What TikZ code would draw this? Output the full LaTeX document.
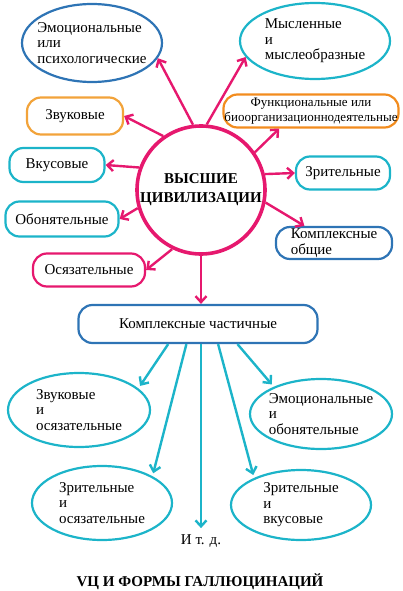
\documentclass[tikz,border=0pt]{standalone}
\usepackage{fontspec}
\setmainfont{Liberation Serif}
\usetikzlibrary{arrows.meta,shapes.geometric}
\definecolor{civpink}{HTML}{E6186E}
\definecolor{civblue}{HTML}{2E74B5}
\definecolor{civteal}{HTML}{1CB4C9}
\definecolor{civorange}{HTML}{F2A33A}
\definecolor{civdeeporange}{HTML}{F28C1E}

\begin{document}
\begin{tikzpicture}[x=1pt, y=-1pt, >={Straight Barb[length=6pt,width=11pt]},
    every node/.style={font=\fontsize{15}{15.5}\selectfont},
    pill/.style={draw, line width=2.2pt, rounded corners=14pt, inner xsep=2pt, minimum height=34pt},
    oval/.style={draw, ellipse, line width=2.2pt, align=left, inner xsep=-20pt, inner ysep=0pt},
    pinkarr/.style={->, line width=2.4pt, civpink},
    tealarr/.style={->, line width=2.4pt, civteal, shorten >=3pt}]
    \useasboundingbox (0,0) rectangle (402,591);

    % 1. центральный круг
    \node[circle, draw=civpink, line width=3.6pt, minimum size=128pt, inner sep=-4pt, align=center,
          font=\bfseries\fontsize{15}{19}\selectfont] (civ) at (201,190) {ВЫСШИЕ\\ЦИВИЛИЗАЦИИ};

    % 2. верхние овалы
    \node[oval, civblue, minimum width=140pt, minimum height=78pt, text=black] (emo) at (92,43)
        {Эмоциональные\\или\\психологические};
    \node[oval, civteal, minimum width=150pt, minimum height=76pt, text=black] (mysl) at (315,41)
        {Мысленные\\и\\мыслеобразные};

    % 3. формы вокруг круга
    \node[pill, civorange, minimum width=96pt, minimum height=37pt, text=black] (zvuk) at (75,116) {Звуковые};
    \node[pill, civdeeporange, minimum width=175pt, minimum height=33pt, align=center, inner xsep=0pt, inner ysep=1pt,
          font=\fontsize{13}{14.5}\selectfont, text=black] (func) at (311,111)
        {Функциональные или\\биоорганизационнодеятельные};
    \node[pill, civteal, minimum width=95pt, text=black] (vkus) at (57,165) {Вкусовые};
    \node[pill, civteal, minimum width=94pt, minimum height=33pt, text=black] (zrit) at (343,173) {Зрительные};
    \node[pill, civteal, minimum width=113pt, minimum height=35pt, text=black] (obon) at (62,219) {Обонятельные};
    \node[pill, civblue, minimum width=116pt, minimum height=32pt, align=left, inner ysep=0pt, text=black] (kobsh) at (334,243)
        {Комплексные\\общие};
    \node[pill, civpink, minimum width=112pt, minimum height=33pt, text=black] (osyaz) at (89,270) {Осязательные};

    % 4. стрелки от круга
    \draw[pinkarr] (civ.97) -- (emo.-13);
    \draw[pinkarr] (civ.85) -- (mysl.-167);
    \draw[pinkarr] (civ.125) -- (zvuk.east);
    \draw[pinkarr] (civ.35) -- (func.209);
    \draw[pinkarr] (civ.160) -- (vkus.east);
    \draw[pinkarr] (civ.14) -- (zrit.west);
    \draw[pinkarr] (civ.196) -- (obon.east);
    \draw[pinkarr] (civ.-11) -- (kobsh.150);
    \draw[pinkarr] (civ.244) -- (osyaz.east);

    % 5. комплексные частичные
    \node[pill, civblue, minimum width=239pt, minimum height=38pt, text=black] (kchast) at (198,324) {Комплексные частичные};
    \draw[pinkarr] (civ.south) -- (civ.south |- kchast.north);

    % 6. нижние овалы
    \node[oval, civteal, minimum width=142pt, minimum height=74pt, text=black] (zvos) at (79,410)
        {Звуковые\\и\\осязательные};
    \node[oval, civteal, minimum width=142pt, minimum height=70pt, text=black] (emob) at (321,414)
        {Эмоциональные\\и\\обонятельные};
    \node[oval, civteal, minimum width=140pt, minimum height=74pt, text=black] (zros) at (102,503)
        {Зрительные\\и\\осязательные};
    \node[oval, civteal, minimum width=140pt, minimum height=70pt, text=black] (zrvk) at (301,505)
        {Зрительные\\и\\вкусовые};
    \node (itd) at (201,541) {И т. д.};

    % 7. стрелки от комплексных частичных
    \draw[tealarr] (kchast.214) -- (zvos.20);
    \draw[tealarr] (kchast.-27) -- (emob.150);
    \draw[tealarr] (kchast.240) -- (zros.28);
    \draw[tealarr] (kchast.-45) -- (zrvk.150);
    \draw[tealarr] (kchast.south -| itd.north) -- (itd.north);

    % 8. подпись
    \node[font=\bfseries\fontsize{15}{18}\selectfont] (title) at (200,582) {VЦ И ФОРМЫ ГАЛЛЮЦИНАЦИЙ};
\end{tikzpicture}
\end{document}
